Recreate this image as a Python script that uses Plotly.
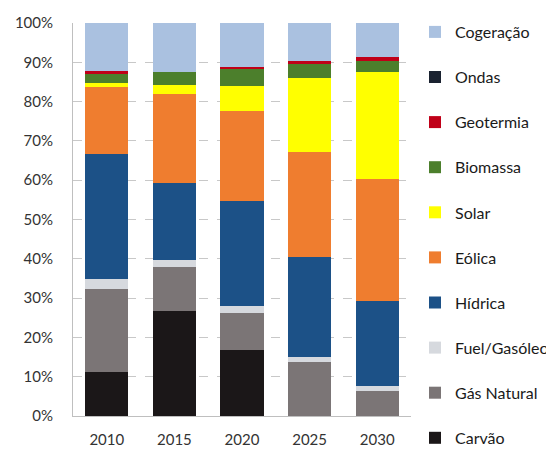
import plotly.graph_objects as go

years = ["2010", "2015", "2020", "2025", "2030"]

# share of electricity production by source (%), bottom to top of each stack
carvao = [11.2, 26.7, 16.8, 0.0, 0.0]
gas_natural = [21.2, 11.2, 9.4, 13.8, 6.4]
fuel_gasoleo = [2.5, 1.7, 1.8, 1.3, 1.3]
hidrica = [31.8, 19.6, 26.8, 25.3, 21.5]
eolica = [17.1, 22.7, 22.9, 26.7, 31.0]
solar = [0.9, 2.3, 6.3, 18.9, 27.4]
biomassa = [2.3, 3.4, 4.2, 3.5, 2.8]
geotermia = [0.8, 0.0, 0.7, 0.9, 1.0]
ondas = [0.0, 0.0, 0.0, 0.0, 0.0]
cogeracao = [12.2, 12.4, 11.1, 9.6, 8.6]

series = [
    ("Carvão", carvao, "#1b1718"),
    ("Gás Natural", gas_natural, "#7b7576"),
    ("Fuel/Gasóleo", fuel_gasoleo, "#d6d9de"),
    ("Hídrica", hidrica, "#1c5187"),
    ("Eólica", eolica, "#ef7d2f"),
    ("Solar", solar, "#ffff00"),
    ("Biomassa", biomassa, "#4c7f2c"),
    ("Geotermia", geotermia, "#c00018"),
    ("Ondas", ondas, "#1a2230"),
    ("Cogeração", cogeracao, "#aac1e0"),
]

fig = go.Figure()
n = len(series)
for i, (name, vals, color) in enumerate(series):
    fig.add_trace(go.Bar(
        x=years, y=vals, name=name, legendgroup=name,
        legendrank=n - i,
        marker=dict(color=color, line=dict(width=0)),
    ))

font = "Lato, 'Open Sans', sans-serif"
fig.update_layout(
    width=546, height=450,
    barmode="stack", bargap=0.36,
    plot_bgcolor="white", paper_bgcolor="white",
    margin=dict(l=73, r=135, t=23, b=34),
    font=dict(family=font, size=15, color="#333333"),
    legend=dict(
        traceorder="grouped", tracegroupgap=21.3, maxheight=480,
        x=415 / 546, xref="container", xanchor="left",
        y=1 - 15 / 450, yref="container", yanchor="top",
        font=dict(size=16, color="#1a1a1a"),
        itemwidth=30, bgcolor="rgba(0,0,0,0)",
    ),
    xaxis=dict(
        showline=True, linecolor="#bfbfbf", linewidth=1, automargin=False,
        ticks="", tickfont=dict(size=15), ticklabelstandoff=10,
    ),
    yaxis=dict(
        range=[0, 100], dtick=10, ticksuffix="%", automargin=False,
        showgrid=True, gridcolor="#c8c8c8", griddash="dash", gridwidth=1,
        showline=True, linecolor="#bfbfbf", linewidth=1,
        zeroline=False, tickfont=dict(size=15), ticklabelstandoff=16,
    ),
)

fig.write_html("out.html")
